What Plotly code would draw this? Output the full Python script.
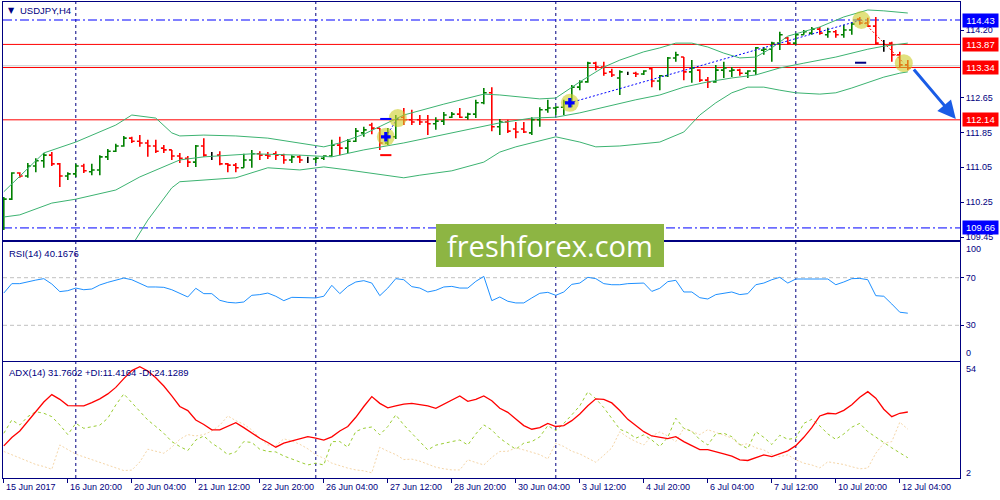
import plotly.graph_objects as go
from plotly.subplots import make_subplots

# ---------------- data ----------------
bar_index = list(range(114))
opens = [109.73,110.32,110.92,110.85,111.08,111.20,111.33,111.13,110.85,110.90,
         111.08,110.95,110.99,111.29,111.42,111.54,111.72,111.65,111.61,111.54,
         111.49,111.45,111.31,111.26,111.17,111.54,111.33,111.33,111.13,111.10,
         111.04,111.22,111.36,111.33,111.36,111.33,111.22,111.29,111.24,111.24,
         111.26,111.31,111.56,111.49,111.65,111.84,112.02,111.95,111.61,111.75,
         112.20,112.14,112.14,112.09,112.05,112.11,112.20,112.27,112.20,112.27,
         112.53,112.76,111.98,112.09,111.93,111.93,111.84,112.14,112.37,112.41,
         112.43,112.55,112.89,113.01,113.44,113.35,113.24,113.10,113.21,113.21,
         113.19,113.31,113.03,113.15,113.56,113.58,113.24,113.28,113.05,113.01,
         113.28,113.26,113.28,113.21,113.26,113.74,113.76,113.90,114.02,113.90,
         114.09,114.13,114.22,114.09,114.16,114.09,114.20,114.45,114.36,114.29,
         113.90,113.90,113.63,113.40]
highs = [110.37,110.94,110.94,111.15,111.26,111.38,111.40,111.15,110.94,111.13,
         111.13,111.13,111.33,111.47,111.59,111.77,111.75,111.79,111.68,111.68,
         111.56,111.45,111.38,111.31,111.56,111.72,111.40,111.42,111.15,111.15,
         111.36,111.45,111.42,111.40,111.42,111.36,111.33,111.33,111.29,111.29,
         111.33,111.68,111.75,111.70,111.95,111.98,112.07,111.95,111.95,112.25,
         112.41,112.37,112.25,112.25,112.20,112.32,112.32,112.41,112.30,112.60,
         112.87,112.89,112.16,112.14,112.09,112.09,112.20,112.43,112.60,112.45,
         112.60,112.94,113.05,113.47,113.47,113.47,113.31,113.28,113.24,113.24,
         113.28,113.33,113.17,113.58,113.70,113.58,113.51,113.30,113.12,113.40,
         113.47,113.35,113.31,113.28,113.81,113.81,113.93,114.16,114.04,114.13,
         114.20,114.27,114.27,114.25,114.20,114.32,114.38,114.50,114.48,114.50,
         113.97,113.93,113.70,113.51]
lows = [109.61,110.30,110.81,110.81,110.94,111.04,111.08,110.60,110.76,110.83,
        110.92,110.87,110.87,111.22,111.40,111.52,111.61,111.52,111.29,111.38,
        111.38,111.22,111.15,111.06,111.06,111.29,111.22,111.10,110.94,110.94,
        111.04,111.04,111.22,111.24,111.22,111.13,111.15,111.15,111.15,111.15,
        111.22,111.29,111.33,111.38,111.63,111.75,111.81,111.45,111.56,111.70,
        112.02,112.02,112.02,111.79,111.91,112.02,112.18,112.18,112.14,112.18,
        112.50,111.88,111.79,111.84,111.72,111.84,111.79,111.98,112.30,112.25,
        112.25,112.43,112.82,112.99,113.28,113.15,113.12,112.71,113.17,113.12,
        113.17,112.89,112.82,113.12,113.47,113.05,112.99,113.01,112.87,112.99,
        113.10,113.12,113.15,113.10,113.17,113.63,113.47,113.74,113.86,113.86,
        114.09,114.09,114.09,114.02,114.02,114.02,114.09,114.32,114.27,113.86,
        113.70,113.47,113.33,113.28]
closes = [110.32,110.92,110.85,111.08,111.20,111.33,111.13,110.85,110.90,111.08,
          110.97,110.99,111.29,111.42,111.54,111.72,111.65,111.61,111.54,111.42,
          111.45,111.31,111.26,111.17,111.54,111.33,111.33,111.13,111.10,111.04,
          111.22,111.36,111.33,111.31,111.33,111.22,111.29,111.22,111.24,111.26,
          111.31,111.56,111.49,111.65,111.88,111.91,111.95,111.61,111.75,112.16,
          112.14,112.09,112.09,112.05,112.11,112.25,112.27,112.20,112.27,112.53,
          112.76,111.98,112.09,111.88,111.86,111.86,112.14,112.37,112.41,112.43,
          112.55,112.89,113.01,113.44,113.35,113.21,113.17,113.24,113.21,113.19,
          113.26,113.03,113.15,113.56,113.63,113.24,113.33,113.05,113.01,113.28,
          113.33,113.28,113.21,113.26,113.79,113.76,113.90,114.09,113.90,114.09,
          114.16,114.22,114.13,114.16,114.09,114.20,114.34,114.36,114.29,113.90,
          113.90,113.63,113.40,113.33]

bb_upper_idx = [0,5,9,14,16,19,21,22,25,29,33,37,40,42,45,50,55,60,62,67,
                69,72,75,77,80,82,84,86,88,90,92,94,96,98,100,102,105,108,110,113]
bb_upper = [110.49,111.38,111.63,112.02,112.25,112.18,111.84,111.77,111.79,111.77,
            111.72,111.61,111.52,111.61,111.81,112.25,112.50,112.73,112.71,112.62,
            112.64,113.01,113.35,113.51,113.70,113.79,113.90,113.90,113.81,113.67,
            113.56,113.58,113.79,114.06,114.16,114.27,114.50,114.66,114.64,114.59]
bb_mid_idx = [0,2,6,9,14,17,22,25,31,37,41,45,50,56,62,66,69,72,75,79,
              82,85,88,91,94,97,100,104,108,110,113]
bb_mid = [109.91,109.96,110.23,110.32,110.53,110.83,111.22,111.29,111.36,111.33,
          111.29,111.45,111.61,111.84,112.07,112.18,112.20,112.30,112.43,112.60,
          112.71,112.89,113.01,113.10,113.17,113.33,113.44,113.58,113.76,113.83,113.90]
bb_low_idx = [16,18,21,22,29,33,37,40,43,50,52,56,60,62,64,69,72,74,77,81,
              82,85,87,89,91,93,95,97,99,102,104,106,108,110,112,113]
bb_low = [109.25,109.84,110.58,110.72,110.81,111.04,110.99,111.06,110.99,110.81,
          110.87,110.97,111.17,111.40,111.52,111.75,111.63,111.52,111.54,111.61,
          111.63,111.86,112.25,112.53,112.76,112.89,112.89,112.82,112.76,112.73,
          112.76,112.87,112.99,113.12,113.21,113.24]

rsi = [57.1,65.0,65.0,66.7,68.0,69.2,64.7,58.3,59.1,61.3,
       59.9,60.5,63.9,66.1,67.8,69.7,68.3,65.5,62.2,62.2,
       61.9,59.9,57.1,53.8,61.1,56.6,56.6,51.0,49.3,48.8,
       49.6,55.2,55.8,57.1,54.4,50.7,53.5,53.5,53.2,53.0,
       54.4,63.6,56.6,62.7,66.4,67.5,65.5,54.9,61.3,69.2,
       68.3,62.5,61.3,58.0,59.4,62.2,62.7,61.3,61.3,66.9,
       71.1,50.7,53.8,50.2,48.8,48.8,53.0,56.9,57.7,55.2,
       58.0,64.4,65.5,70.3,69.2,65.0,64.1,64.1,65.0,65.5,
       65.5,58.5,61.1,66.7,67.8,58.0,58.0,53.2,52.1,55.8,
       56.6,58.0,55.8,56.6,64.1,65.5,68.3,70.3,65.5,68.9,
       68.9,69.2,68.9,68.9,64.1,66.4,69.2,69.4,68.3,54.9,
       54.4,47.9,41.0,40.17]
adx = [16.7,20.4,23.3,27.6,31.9,36.2,39.5,37.4,34.6,34.5,
       34.5,35.9,37.6,39.8,42.7,46.6,50.2,51.9,50.0,47.0,
       43.3,38.9,34.2,32.4,28.2,26.2,23.8,23.8,25.3,27.0,
       24.8,22.3,20.1,18.2,16.1,17.9,18.9,19.6,20.8,20.1,
       19.3,20.7,23.3,25.3,29.4,34.2,38.6,35.6,33.6,34.5,
       35.3,35.6,35.0,34.5,33.4,35.3,37.1,38.9,36.5,37.4,
       38.9,36.8,33.4,31.6,28.7,25.7,24.1,24.8,26.7,25.3,
       25.7,27.9,30.9,34.5,37.6,37.4,35.8,32.4,28.5,25.6,
       23.0,21.1,20.5,19.9,20.8,18.6,16.8,15.0,15.0,13.9,
       13.1,12.1,10.5,10.2,11.3,12.7,11.9,13.1,14.5,16.8,
       20.5,24.8,30.0,31.2,30.9,32.5,35.0,38.3,40.8,37.9,
       33.0,29.7,31.2,31.76]
plus_di = [22.3,28.2,26.0,29.7,31.9,31.2,29.7,26.0,21.7,26.7,
           24.5,25.3,25.9,29.0,34.9,39.8,35.9,31.9,28.2,25.3,
           22.3,18.6,16.4,14.6,19.3,21.1,17.9,15.6,12.8,14.0,
           18.6,18.2,15.2,14.2,14.0,12.2,10.9,9.3,8.2,9.0,
           8.2,18.6,18.6,16.1,23.1,24.5,25.1,21.6,25.3,30.5,
           26.0,22.3,18.6,14.9,17.0,17.9,18.6,19.3,17.1,22.0,
           26.0,23.8,20.1,17.6,15.2,17.9,18.6,20.7,25.7,23.5,
           26.7,30.5,34.5,40.7,37.7,33.7,28.8,24.1,22.6,20.1,
           21.6,19.3,16.4,20.5,29.0,24.5,23.2,19.5,17.1,22.0,
           22.3,20.8,17.3,15.5,23.0,20.5,17.3,21.4,19.6,20.1,
           26.7,28.5,25.6,22.0,19.6,22.0,25.0,26.7,23.0,20.5,
           17.9,15.8,13.6,11.42]
minus_di = [14.2,12.7,11.3,9.9,8.4,7.5,6.3,17.1,15.2,13.0,
            11.8,10.6,9.1,7.9,6.9,5.7,5.9,9.5,15.2,14.2,
            13.4,16.1,19.6,21.7,21.1,21.7,23.3,25.9,30.0,27.9,
            26.3,23.8,20.1,17.1,16.8,19.8,18.9,17.4,15.4,12.7,
            11.2,9.0,7.8,6.8,6.0,5.6,4.7,16.1,14.3,12.8,
            10.6,10.8,9.9,8.4,7.2,6.5,6.0,6.0,10.5,9.3,
            8.2,11.6,14.2,14.3,15.8,14.9,13.7,12.8,10.9,17.9,
            16.4,14.3,13.1,11.3,9.4,12.5,15.8,23.0,20.5,18.6,
            17.1,21.1,22.9,21.1,18.6,24.5,23.0,21.7,23.9,22.7,
            21.6,20.2,17.0,17.7,15.8,14.9,12.8,11.9,12.7,10.5,
            9.0,8.2,6.9,9.6,9.0,8.4,7.4,6.5,6.8,13.4,
            17.9,18.6,27.2,24.13]

tick_index = [0, 8, 16, 24, 32, 40, 48, 56, 64, 72, 80, 88, 96, 104, 112]
tick_labels = ["15 Jun 2017", "16 Jun 20:00", "20 Jun 04:00", "21 Jun 12:00",
               "22 Jun 20:00", "26 Jun 04:00", "27 Jun 12:00", "28 Jun 20:00",
               "30 Jun 04:00", "3 Jul 12:00", "4 Jul 20:00", "6 Jul 04:00",
               "7 Jul 12:00", "10 Jul 20:00", "12 Jul 04:00"]
separator_index = [9, 39, 69, 99]

price_ticks = [114.20, 112.65, 111.85, 111.05, 110.25, 109.45]
level_red = [113.87, 113.34, 112.14]
level_blue = [114.43, 109.66]
grey_level = [113.38]

signal_idx = [47.75, 49.25, 70.75, 107.2, 112.5]
signal_price = [111.75, 112.18, 112.53, 114.43, 113.44]
cross_idx = [47.75, 70.75]
cross_price = [111.75, 112.53]
dash_idx = [47.75, 47.75, 107.1]
dash_price = [112.16, 111.33, 113.45]
dash_colors = ["#0000ff", "#ff0000", "#000080"]
arrow_from = (113.6, 113.33)
arrow_to = (119.0, 112.16)

symbol = "USDJPY,H4"
rsi_label = "RSI(14) 40.1676"
adx_label = "ADX(14) 31.7602 +DI:11.4164 -DI:24.1289"

# ---------------- layout helpers (pixel -> paper) ----------------
L, R, T, B = 3, 40, 2, 22
W, H = 1000, 500
PW, PH = W - L - R, H - T - B
def px(x):
    return (x - L) / PW
def py(y):
    return (H - B - y) / PH

NAVY = "#000080"
FONT = "Liberation Sans, Arial, sans-serif"

fig = make_subplots(rows=3, cols=1, shared_xaxes=True, vertical_spacing=0.01)

# ---- OHLC bars ----
def ohlc_trace(ids, color):
    gaps = [b - a for a, b in zip(ids, ids[1:])]
    tw = min(0.45, 0.36 / min(gaps)) if gaps else 0.36
    ln = dict(line=dict(color=color, width=1.6))
    return go.Ohlc(x=ids, open=[opens[i] for i in ids], high=[highs[i] for i in ids],
                   low=[lows[i] for i in ids], close=[closes[i] for i in ids],
                   increasing=ln, decreasing=ln, tickwidth=tw,
                   showlegend=False, hoverinfo="skip")

up = [i for i in bar_index if closes[i] > opens[i]]
dn = [i for i in bar_index if closes[i] < opens[i]]
dj = [i for i in bar_index if closes[i] == opens[i]]

# Bollinger bands
for xi, yv in ((bb_upper_idx, bb_upper), (bb_mid_idx, bb_mid), (bb_low_idx, bb_low)):
    fig.add_trace(go.Scatter(x=xi, y=yv, mode="lines", line=dict(color="#3cb371", width=1),
                             showlegend=False, hoverinfo="skip"), row=1, col=1)

fig.add_trace(ohlc_trace(up, "#008000"), row=1, col=1)
fig.add_trace(ohlc_trace(dn, "#ff0000"), row=1, col=1)
fig.add_trace(ohlc_trace(dj, "#000000"), row=1, col=1)

# signal circles and connecting dotted lines
fig.add_trace(go.Scatter(x=signal_idx[0:2], y=signal_price[0:2], mode="lines",
                         line=dict(color="#0000ff", width=1, dash="2px,2px"),
                         showlegend=False, hoverinfo="skip"), row=1, col=1)
fig.add_trace(go.Scatter(x=signal_idx[2:4], y=signal_price[2:4], mode="lines",
                         line=dict(color="#0000ff", width=1, dash="2px,2px"),
                         showlegend=False, hoverinfo="skip"), row=1, col=1)
fig.add_trace(go.Scatter(x=signal_idx[3:5], y=signal_price[3:5], mode="lines",
                         line=dict(color="#ff0000", width=1, dash="2px,2px"),
                         showlegend=False, hoverinfo="skip"), row=1, col=1)
fig.add_trace(go.Scatter(x=signal_idx, y=signal_price, mode="markers",
                         marker=dict(size=18, color="rgba(205,205,40,0.6)", line=dict(width=0)),
                         showlegend=False, hoverinfo="skip"), row=1, col=1)
fig.add_trace(go.Scatter(x=cross_idx, y=cross_price, mode="markers",
                         marker=dict(symbol="cross", size=8, color="#0000ff", line=dict(width=0)),
                         showlegend=False, hoverinfo="skip"), row=1, col=1)
fig.add_trace(go.Scatter(x=dash_idx, y=dash_price, mode="markers",
                         marker=dict(symbol="line-ew", size=8, line=dict(color=dash_colors, width=2)),
                         showlegend=False, hoverinfo="skip"), row=1, col=1)

# ---- RSI ----
fig.add_trace(go.Scatter(x=bar_index, y=rsi, mode="lines", line=dict(color="#1e90ff", width=1),
                         showlegend=False, hoverinfo="skip"), row=2, col=1)

# ---- ADX ----
fig.add_trace(go.Scatter(x=bar_index, y=minus_di, mode="lines",
                         line=dict(color="#f5d6a8", width=1, dash="2px,2px"),
                         showlegend=False, hoverinfo="skip"), row=3, col=1)
fig.add_trace(go.Scatter(x=bar_index, y=plus_di, mode="lines",
                         line=dict(color="#9acd32", width=1, dash="3px,3px"),
                         showlegend=False, hoverinfo="skip"), row=3, col=1)
fig.add_trace(go.Scatter(x=bar_index, y=adx, mode="lines", line=dict(color="#ff0000", width=1.3),
                         showlegend=False, hoverinfo="skip"), row=3, col=1)

# ---- axes ----
xr = [-0.1, -0.1 + PW / 8.0]
axis_common = dict(showline=True, mirror=True, linecolor=NAVY, linewidth=1,
                   showgrid=False, zeroline=False)
fig.update_xaxes(range=xr, rangeslider_visible=False, showticklabels=False, ticks="",
                 **axis_common)
fig.update_xaxes(tickvals=tick_index, ticks="outside", ticklen=4, tickcolor=NAVY,
                 showticklabels=False, row=3, col=1)

yfont = dict(family=FONT, size=9, color=NAVY)
fig.update_layout(
    yaxis=dict(domain=[py(240), py(2)], range=[109.383, 114.843], side="right",
               tickvals=price_ticks, ticktext=[f"{v:.2f}" for v in price_ticks],
               ticks="outside", ticklen=3, tickcolor=NAVY, tickfont=yfont, **axis_common),
    yaxis2=dict(domain=[py(361), py(242)], range=[0, 100], side="right",
                tickvals=[70, 30], ticktext=["70", "30"], ticks="outside", ticklen=3,
                tickcolor=NAVY, tickfont=yfont, **axis_common),
    yaxis3=dict(domain=[py(478), py(362)], range=[2.4, 54], side="right",
                tickvals=[], ticks="", tickfont=yfont, **axis_common),
)

shapes = []
for xi in separator_index:
    shapes.append(dict(type="line", xref="x", yref="paper", x0=xi, x1=xi, y0=0, y1=1,
                       line=dict(color=NAVY, width=1, dash="3px,3px"), layer="below"))
for v in grey_level:
    shapes.append(dict(type="line", xref="paper", yref="y", x0=0, x1=1, y0=v, y1=v,
                       line=dict(color="#c8c8c8", width=1), layer="below"))
for v in level_red:
    shapes.append(dict(type="line", xref="paper", yref="y", x0=0, x1=1, y0=v, y1=v,
                       line=dict(color="#ff0000", width=1), layer="below"))
for v in level_blue:
    shapes.append(dict(type="line", xref="paper", yref="y", x0=0, x1=1, y0=v, y1=v,
                       line=dict(color="#0000ff", width=1, dash="9px,3px,2px,3px"), layer="below"))
for v in (70, 30):
    shapes.append(dict(type="line", xref="paper", yref="y2", x0=0, x1=1, y0=v, y1=v,
                       line=dict(color="#c0c0c0", width=1, dash="4px,3px"), layer="below"))
# watermark box
shapes.append(dict(type="rect", xref="paper", yref="paper", x0=px(436), x1=px(664),
                   y0=py(267), y1=py(224), fillcolor="#8db543", line=dict(width=0), layer="above"))

ann = []
# price level boxes on the right scale
for v in level_red + level_blue:
    ann.append(dict(xref="paper", yref="y", x=1, y=v, xanchor="left", yanchor="middle",
                    xshift=2, text=f"{v:.2f}", showarrow=False, width=33, height=11,
                    bgcolor="#ff0000" if v in level_red else "#0000ff", borderpad=1,
                    font=dict(family=FONT, size=9.5, color="white")))
# fixed scale labels of the indicator windows
for txt, yp in (("100", 249), ("0", 353), ("54", 369), ("2", 473)):
    ann.append(dict(xref="paper", yref="paper", x=1, y=py(yp), xanchor="left", yanchor="middle",
                    xshift=4, text=txt, showarrow=False, font=yfont))
# time labels
for xi, t in zip(tick_index, tick_labels):
    ann.append(dict(xref="x3", yref="paper", x=xi, y=0, xanchor="left", yanchor="top",
                    yshift=-2, text=t, showarrow=False, font=dict(family=FONT, size=9, color=NAVY)))
# window titles
ann.append(dict(xref="paper", yref="paper", x=px(6), y=py(10), xanchor="left", yanchor="middle",
                text="\u25bc", showarrow=False, font=dict(family="DejaVu Sans", size=8, color=NAVY)))
ann.append(dict(xref="paper", yref="paper", x=px(18), y=py(10), xanchor="left", yanchor="middle",
                text=symbol, showarrow=False, font=dict(family=FONT, size=9.5, color=NAVY)))
ann.append(dict(xref="paper", yref="paper", x=px(7), y=py(253), xanchor="left", yanchor="middle",
                text=rsi_label, showarrow=False, font=dict(family=FONT, size=9.5, color=NAVY)))
ann.append(dict(xref="paper", yref="paper", x=px(7), y=py(372), xanchor="left", yanchor="middle",
                text=adx_label, showarrow=False, font=dict(family=FONT, size=9.5, color=NAVY)))
# watermark text
ann.append(dict(xref="paper", yref="paper", x=px(550), y=py(246), xanchor="center", yanchor="middle",
                text="freshforex.com", showarrow=False,
                font=dict(family="Open Sans", size=29, color="white")))
# forecast arrow
ann.append(dict(xref="x", yref="y", axref="x", ayref="y", x=arrow_to[0], y=arrow_to[1],
                ax=arrow_from[0], ay=arrow_from[1], text="", showarrow=True,
                arrowhead=2, arrowsize=1.2, arrowwidth=3, arrowcolor="#1a5ce6"))

fig.update_layout(width=W, height=H, margin=dict(l=L, r=R, t=T, b=B),
                  paper_bgcolor="white", plot_bgcolor="rgba(0,0,0,0)",
                  shapes=shapes, annotations=ann, showlegend=False,
                  font=dict(family=FONT, size=9, color=NAVY))

fig.write_html("out.html", config={"displayModeBar": False, "staticPlot": True},
               post_script="document.body.style.margin='0';")
